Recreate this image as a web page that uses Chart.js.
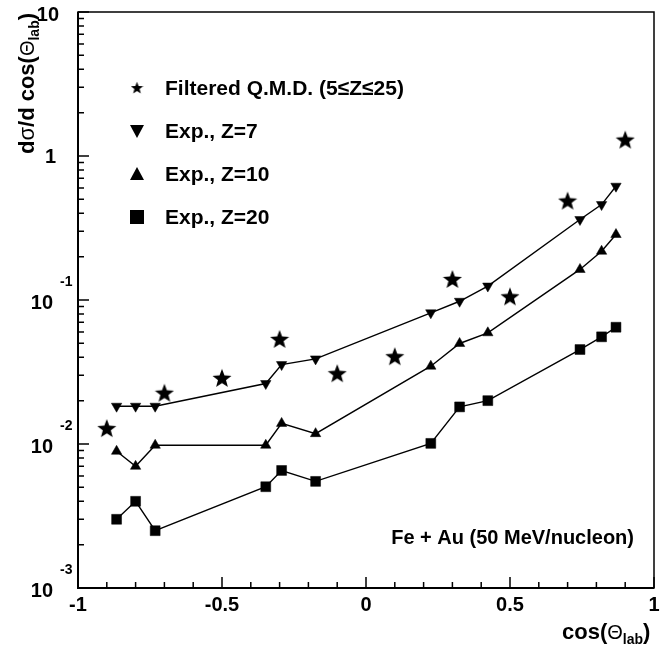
<!DOCTYPE html>
<html>
<head>
<meta charset="utf-8">
<script src="https://cdn.jsdelivr.net/npm/chart.js@4/dist/chart.umd.min.js"></script>
<style>
  html, body { margin: 0; padding: 0; background: #fff; }
  #wrap { width: 670px; height: 649px; }
</style>
</head>
<body>
<div id="wrap"><canvas id="xsChart" width="670" height="649"></canvas></div>
<script>
// --- data: dsigma/dcos(theta_lab), Fe + Au at 50 MeV/nucleon ---
const qmdCos = [-0.9, -0.7, -0.5, -0.3, -0.1, 0.1, 0.3, 0.5, 0.7, 0.9];
const qmdVal = [0.0129, 0.0227, 0.0288, 0.0537, 0.031, 0.0407, 0.140, 0.106, 0.49, 1.30];

const expCos = [-0.866, -0.80, -0.732, -0.348, -0.293, -0.175, 0.225, 0.325, 0.423, 0.743, 0.818, 0.868];
const z7Val  = [0.0183, 0.0183, 0.0183, 0.0263, 0.0356, 0.039, 0.0815, 0.098, 0.125, 0.362, 0.46, 0.617];
const z10Val = [0.0089, 0.0070, 0.0098, 0.0098, 0.0139, 0.0118, 0.0347, 0.0499, 0.0592, 0.163, 0.218, 0.285];
const z20Val = [0.0030, 0.0040, 0.0025, 0.00505, 0.00655, 0.0055, 0.0101, 0.0181, 0.020, 0.0453, 0.0555, 0.0647];

const legendLabels = ['Filtered Q.M.D. (5\u2264Z\u226425)', 'Exp., Z=7', 'Exp., Z=10', 'Exp., Z=20'];
const xTickVals = [-1, -0.5, 0, 0.5, 1];
const xTickLabels = ['-1', '-0.5', '0', '0.5', '1'];
const yTickVals = [10, 1, 0.1, 0.01, 0.001];
const yTickBase = ['10', '1', '10', '10', '10'];
const yTickExp  = ['', '', '-1', '-2', '-3'];

const pts = (xs, ys) => xs.map((x, i) => ({ x: x, y: ys[i] }));
const FONT = '"Liberation Sans", Arial, sans-serif';

// filled five-point star used as a point style
function makeStar(size) {
  const c = document.createElement('canvas');
  c.width = size; c.height = size;
  const g = c.getContext('2d');
  const R = size / 2, r = R * 0.42;
  g.beginPath();
  for (let i = 0; i < 10; i++) {
    const rad = (i % 2 === 0) ? R : r;
    const a = -Math.PI / 2 + i * Math.PI / 5;
    const px = R + rad * Math.cos(a), py = R + rad * Math.sin(a) + R * 0.1;
    i === 0 ? g.moveTo(px, py) : g.lineTo(px, py);
  }
  g.closePath();
  g.fillStyle = '#000';
  g.fill();
  return c;
}
const starBig = makeStar(20);
const starSmall = makeStar(13);

// frame, inward ticks, tick labels, titles and the legend
const decorations = {
  id: 'decorations',
  afterDraw(chart) {
    const ctx = chart.ctx;
    const a = chart.chartArea;
    const xs = chart.scales.x, ys = chart.scales.y;
    ctx.save();
    ctx.strokeStyle = '#000';
    ctx.fillStyle = '#000';

    // frame
    ctx.lineWidth = 1.5;
    ctx.strokeRect(a.left, a.top, a.right - a.left, a.bottom - a.top);
    ctx.lineWidth = 2;
    ctx.beginPath();
    ctx.moveTo(a.left, a.top); ctx.lineTo(a.left, a.bottom); ctx.lineTo(a.right, a.bottom);
    ctx.stroke();

    // x ticks every 0.1, longer at 0.5
    ctx.lineWidth = 1.5;
    ctx.beginPath();
    for (let i = -10; i <= 10; i++) {
      const px = xs.getPixelForValue(i / 10);
      const len = (i % 5 === 0) ? 11 : 6;
      ctx.moveTo(px, a.bottom); ctx.lineTo(px, a.bottom - len);
    }
    // y log ticks
    for (let e = -3; e <= 1; e++) {
      for (let m = 1; m <= 9; m++) {
        const v = m * Math.pow(10, e);
        if (v > 10.0001) break;
        const py = ys.getPixelForValue(v);
        const len = (m === 1) ? 11 : 6;
        ctx.moveTo(a.left, py); ctx.lineTo(a.left + len, py);
      }
    }
    ctx.stroke();

    // x tick labels
    ctx.font = 'bold 20px ' + FONT;
    ctx.textAlign = 'center';
    ctx.textBaseline = 'middle';
    xTickVals.forEach((v, i) => {
      ctx.fillText(xTickLabels[i], xs.getPixelForValue(v), a.bottom + 17);
    });

    // y tick labels with exponent
    yTickVals.forEach((v, i) => {
      const py = ys.getPixelForValue(v);
      ctx.textAlign = 'right';
      ctx.font = 'bold 20px ' + FONT;
      if (yTickExp[i]) {
        ctx.fillText(yTickBase[i], 53, py + 3);
        ctx.font = 'bold 14px ' + FONT;
        ctx.textAlign = 'left';
        ctx.fillText(yTickExp[i], 60, py - 18);
      } else if (i === 0) {
        ctx.fillText(yTickBase[i], 59, py + 3);
      } else {
        ctx.fillText(yTickBase[i], 56, py + 1);
      }
    });

    // x title: cos(Θ_lab)
    ctx.textAlign = 'left';
    ctx.textBaseline = 'alphabetic';
    let x = 562;
    const by = 639;
    const seg = (t, f, dy) => { ctx.font = f; ctx.fillText(t, x, by + (dy || 0)); x += ctx.measureText(t).width; };
    seg('cos(', 'bold 22px ' + FONT);
    seg('\u0398', '20px ' + FONT);
    seg('lab', 'bold 14px ' + FONT, 5);
    seg(')', 'bold 22px ' + FONT);

    // y title: dσ/d cos(Θ_lab), rotated
    ctx.save();
    ctx.translate(34, 154);
    ctx.rotate(-Math.PI / 2);
    x = 0;
    const seg2 = (t, f, dy) => { ctx.font = f; ctx.fillText(t, x, dy || 0); x += ctx.measureText(t).width; };
    seg2('d', 'bold 22px ' + FONT);
    seg2('\u03c3', '22px ' + FONT);
    seg2('/d cos(', 'bold 22px ' + FONT);
    seg2('\u0398', '20px ' + FONT);
    seg2('lab', 'bold 14px ' + FONT, 5);
    seg2(')', 'bold 22px ' + FONT);
    ctx.restore();

    // reaction label
    ctx.font = 'bold 20px ' + FONT;
    ctx.textAlign = 'right';
    ctx.textBaseline = 'middle';
    ctx.fillText('Fe + Au (50 MeV/nucleon)', 634, 538);

    // legend
    const rows = [88, 131, 174, 217];
    ctx.textAlign = 'left';
    ctx.font = 'bold 21px ' + FONT;
    legendLabels.forEach((t, i) => {
      const cy = rows[i];
      ctx.fillText(t, 165, cy + 1);
      const cx = 137;
      ctx.beginPath();
      if (i === 0) {
        ctx.drawImage(starSmall, cx - 6.5, cy - 7);
      } else if (i === 1) {
        ctx.moveTo(cx - 7, cy - 6); ctx.lineTo(cx + 7, cy - 6); ctx.lineTo(cx, cy + 7);
      } else if (i === 2) {
        ctx.moveTo(cx - 7, cy + 6); ctx.lineTo(cx + 7, cy + 6); ctx.lineTo(cx, cy - 7);
      } else {
        ctx.rect(cx - 7, cy - 7, 14, 14);
      }
      ctx.fill();
    });

    ctx.restore();
  }
};

const lineSet = (label, data, style, rot, r) => ({
  label: label,
  data: data,
  showLine: true,
  borderColor: '#000',
  borderWidth: 1.4,
  backgroundColor: '#000',
  pointStyle: style,
  rotation: rot,
  pointRadius: r,
  pointBorderWidth: 0.5,
  pointBorderColor: '#000',
  pointBackgroundColor: '#000',
  tension: 0
});

new Chart(document.getElementById('xsChart'), {
  type: 'scatter',
  data: {
    datasets: [
      {
        label: legendLabels[0],
        data: pts(qmdCos, qmdVal),
        showLine: false,
        pointStyle: starBig,
        pointRadius: 10
      },
      lineSet(legendLabels[1], pts(expCos, z7Val), 'triangle', 180, 6),
      lineSet(legendLabels[2], pts(expCos, z10Val), 'triangle', 0, 6),
      lineSet(legendLabels[3], pts(expCos, z20Val), 'rect', 0, 7)
    ]
  },
  options: {
    responsive: false,
    animation: false,
    layout: { padding: { left: 78, right: 16, top: 12, bottom: 61 } },
    plugins: { legend: { display: false }, tooltip: { enabled: false } },
    scales: {
      x: { type: 'linear', min: -1, max: 1, display: false },
      y: { type: 'logarithmic', min: 0.001, max: 10, display: false }
    }
  },
  plugins: [decorations]
});
</script>
</body>
</html>
